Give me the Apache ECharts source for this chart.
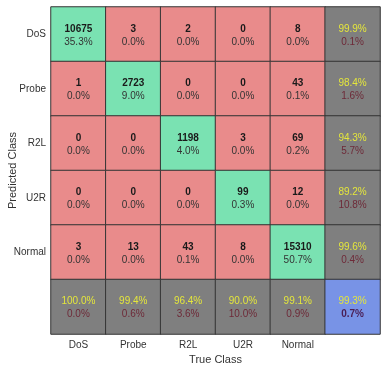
<!DOCTYPE html>
<html><head><meta charset="utf-8">
<script src="https://cdn.jsdelivr.net/npm/echarts@6/dist/echarts.min.js"></script>
<style>html,body{margin:0;padding:0;background:#fff}#c{width:381px;height:366px}</style>
</head><body><div id="c"></div>
<script>
var classes = ['DoS', 'Probe', 'R2L', 'U2R', 'Normal'];
var counts = [
  [10675, 3, 2, 0, 8],
  [1, 2723, 0, 0, 43],
  [0, 0, 1198, 3, 69],
  [0, 0, 0, 99, 12],
  [3, 13, 43, 8, 15310]
];
var pcts = [
  ['35.3%', '0.0%', '0.0%', '0.0%', '0.0%'],
  ['0.0%', '9.0%', '0.0%', '0.0%', '0.1%'],
  ['0.0%', '0.0%', '4.0%', '0.0%', '0.2%'],
  ['0.0%', '0.0%', '0.0%', '0.3%', '0.0%'],
  ['0.0%', '0.0%', '0.1%', '0.0%', '50.7%']
];
var rowGood = ['99.9%', '98.4%', '94.3%', '89.2%', '99.6%'];
var rowBad = ['0.1%', '1.6%', '5.7%', '10.8%', '0.4%'];
var colGood = ['100.0%', '99.4%', '96.4%', '90.0%', '99.1%'];
var colBad = ['0.0%', '0.6%', '3.6%', '10.0%', '0.9%'];
var totalGood = '99.3%';
var totalBad = '0.7%';

var xCats = classes.concat(['']);
var yCats = classes.concat(['']);
var data = [];
var n = classes.length;
for (var r = 0; r < n; r++) {
  for (var c = 0; c < n; c++) {
    data.push({
      value: [c, r, counts[r][c]],
      itemStyle: { color: r === c ? '#7ae2b2' : '#e98b8b' },
      label: { formatter: '{a|' + counts[r][c] + '}\n{b|' + pcts[r][c] + '}' }
    });
  }
  data.push({
    value: [n, r, 0],
    itemStyle: { color: '#7f7f7f' },
    label: { formatter: '{g|' + rowGood[r] + '}\n{d|' + rowBad[r] + '}' }
  });
}
for (var c2 = 0; c2 < n; c2++) {
  data.push({
    value: [c2, n, 0],
    itemStyle: { color: '#7f7f7f' },
    label: { formatter: '{g|' + colGood[c2] + '}\n{d|' + colBad[c2] + '}' }
  });
}
data.push({
  value: [n, n, 0],
  itemStyle: { color: '#7893e6' },
  label: { formatter: '{g|' + totalGood + '}\n{p|' + totalBad + '}' }
});

var chart = echarts.init(document.getElementById('c'));
chart.setOption({
  animation: false,
  backgroundColor: '#fff',
  textStyle: { fontFamily: 'Liberation Sans, Arial, sans-serif' },
  grid: { left: 51, right: 1, top: 7, bottom: 32, containLabel: false, outerBoundsMode: 'none' },
  xAxis: {
    type: 'category', data: xCats, position: 'bottom',
    axisLine: { show: false }, axisTick: { show: false }, splitLine: { show: false },
    axisLabel: { color: '#333', fontSize: 10, margin: 6 },
    name: 'True Class', nameLocation: 'middle', nameGap: 20, nameMoveOverlap: false,
    nameTextStyle: { color: '#333', fontSize: 11 }
  },
  yAxis: {
    type: 'category', data: yCats, inverse: true,
    axisLine: { show: false }, axisTick: { show: false }, splitLine: { show: false },
    axisLabel: { color: '#333', fontSize: 10, margin: 5 },
    name: 'Predicted Class', nameLocation: 'middle', nameGap: 33, nameRotate: 90, nameMoveOverlap: false,
    nameTextStyle: { color: '#333', fontSize: 11 }
  },
  series: [{
    type: 'heatmap',
    data: data,
    itemStyle: { borderColor: '#353535', borderWidth: 1 },
    label: {
      show: true,
      offset: [0, 1],
      rich: {
        a: { fontWeight: 'bold', fontSize: 10, color: '#1a1a1a', lineHeight: 13 },
        b: { fontSize: 10, color: '#333', lineHeight: 13 },
        g: { fontSize: 10, color: '#e4e63c', lineHeight: 13 },
        d: { fontSize: 10, color: '#6e2a38', lineHeight: 13 },
        p: { fontSize: 10, color: '#4a1f55', fontWeight: 'bold', lineHeight: 13 }
      }
    },
    emphasis: { disabled: true }
  }]
});
</script></body></html>
